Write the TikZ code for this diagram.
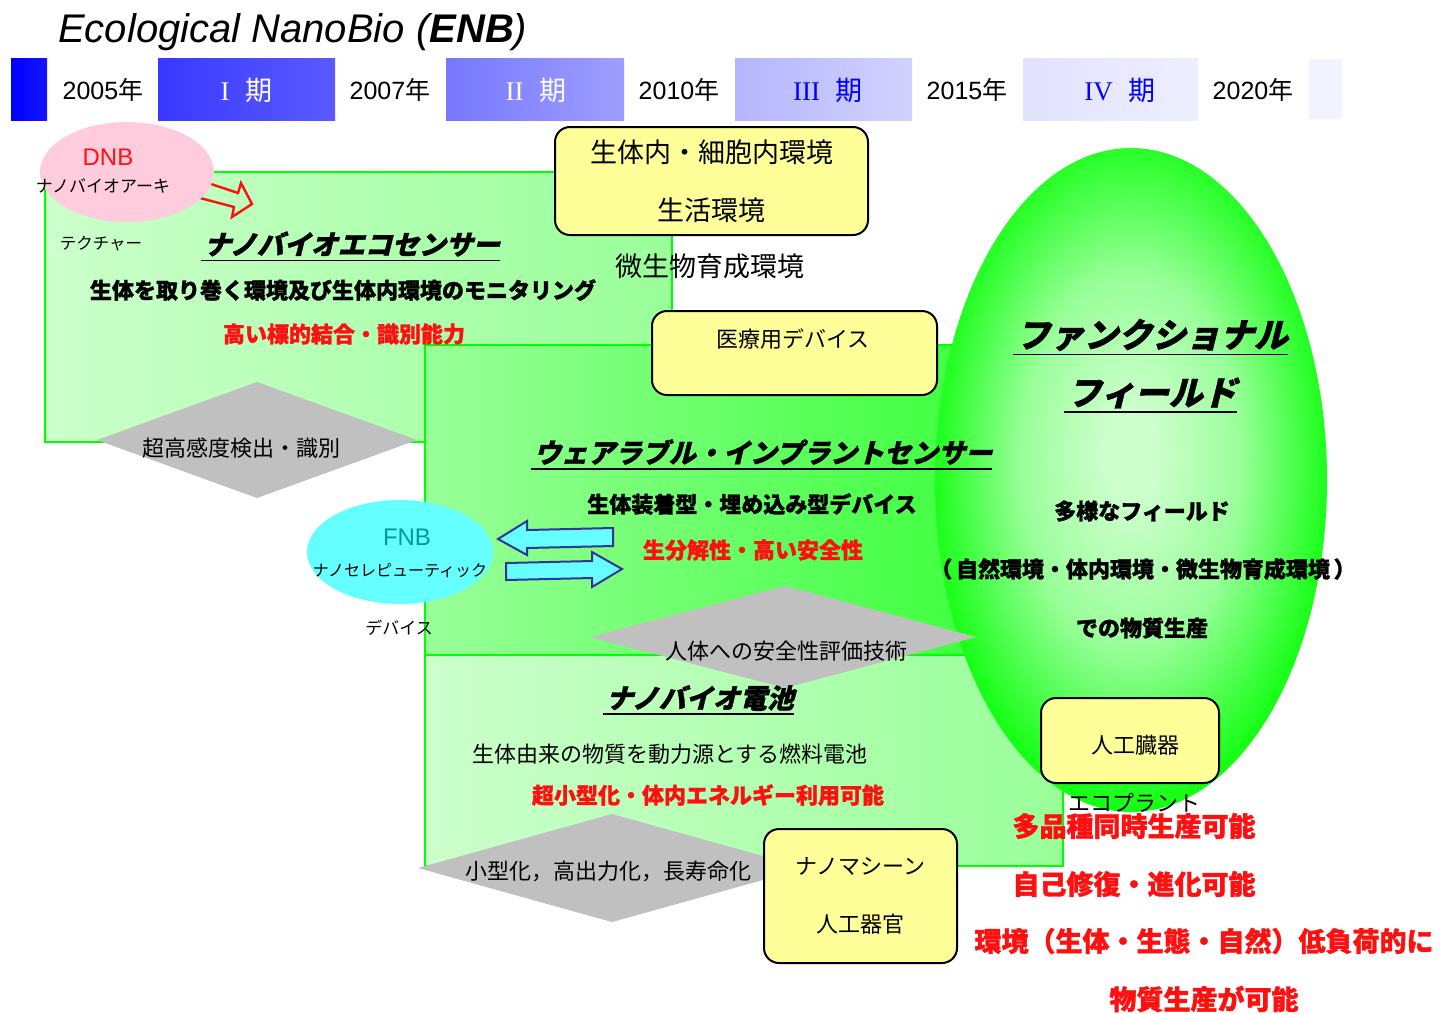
\documentclass[tikz,border=0pt]{standalone}
\usepackage{fontspec}
\setmainfont{Liberation Sans}
\newfontfamily\jp{Noto Sans CJK JP}[BoldFeatures={FakeBold=1.3}]
\newfontfamily\jpsl{Noto Sans CJK JP}[FakeSlant=0.25, BoldFeatures={FakeBold=1.3}]
\newfontfamily\ser{Liberation Serif}
\usetikzlibrary{calc}
\newcommand\myfs[1]{\fontsize{#1}{#1}\selectfont}
\definecolor{hA1}{HTML}{0000FF}\definecolor{hA2}{HTML}{1515FF}
\definecolor{hB1}{HTML}{3939FF}\definecolor{hB2}{HTML}{5A5AFF}
\definecolor{hC1}{HTML}{7777FF}\definecolor{hC2}{HTML}{9E9EFF}
\definecolor{hD1}{HTML}{B5B5FF}\definecolor{hD2}{HTML}{D2D2FF}
\definecolor{hE1}{HTML}{E2E2FF}\definecolor{hE2}{HTML}{EEEEFF}
\definecolor{hF}{HTML}{F3F3FF}
\definecolor{lgreen}{HTML}{CCFFCC}
\definecolor{mgreen}{HTML}{99FF99}
\definecolor{dgreen}{HTML}{3CFF3C}
\definecolor{border}{HTML}{00FF00}
\definecolor{fieldlight}{HTML}{CCFFCC}
\definecolor{fieldmid}{HTML}{99FF99}
\definecolor{fieldgreen}{HTML}{05FF05}
\definecolor{pinkc}{HTML}{FFCCDD}
\definecolor{cyanc}{HTML}{66FFFF}
\definecolor{tealc}{HTML}{009999}
\definecolor{arrowblue}{HTML}{333399}
\definecolor{boxyellow}{HTML}{FFFF99}
\definecolor{diagray}{HTML}{C0C0C0}
\definecolor{redc}{HTML}{FF1010}
\pgfdeclareradialshading{fieldshade}{\pgfpoint{0bp}{2bp}}{color(0bp)=(fieldlight); color(3.5bp)=(fieldlight); color(14bp)=(fieldmid); color(27bp)=(fieldgreen); color(50bp)=(fieldgreen)}
\begin{document}
\begin{tikzpicture}[x=1pt,y=-1pt,
  lbl/.style={inner sep=0pt, font=\jp\myfs{22}},
  bold/.style={inner sep=0pt, font=\jp\bfseries\myfs{22}},
  ttl/.style={inner sep=0pt, font=\jpsl\bfseries\myfs{27}},
  uline/.style={line width=1.8pt, black},
  gborder/.style={draw=border, line width=2pt},
  ybox/.style={draw=black, line width=2pt, fill=boxyellow, rounded corners=15pt, inner sep=4pt},
  diam/.style={fill=diagray},
  period/.style={inner sep=0pt, font=\myfs{27}},
  year/.style={inner sep=0pt, font=\myfs{25}}]
\useasboundingbox (0,0) rectangle (1442,1013);
\fill[white] (0,0) rectangle (1442,1013);

% title
\node[anchor=base west, inner sep=0pt, font=\myfs{40}\itshape] (title) at (58,42) {Ecological NanoBio ({\bfseries ENB})};

% header bar
\shade[left color=hA1, right color=hA2] (11,58) rectangle (47,120);
\shade[left color=hB1, right color=hB2] (158,58) rectangle (335,120);
\shade[left color=hC1, right color=hC2] (446,58) rectangle (624,120);
\shade[left color=hD1, right color=hD2] (735,58) rectangle (912,120);
\shade[left color=hE1, right color=hE2] (1023,58) rectangle (1198,120);
\fill[hF] (1309,59) rectangle (1342,119);
\node[year] (y1) at (103,90) {2005{\jp 年}};
\node[year] (y2) at (390,90) {2007{\jp 年}};
\node[year] (y3) at (679,90) {2010{\jp 年}};
\node[year] (y4) at (967,90) {2015{\jp 年}};
\node[year] (y5) at (1253,90) {2020{\jp 年}};
\node[period, text=white] (p1) at (246.5,90) {{\ser I}\hspace{16pt}{\jp 期}};
\node[period, text=white] (p2) at (536,90) {{\ser II}\hspace{16pt}{\jp 期}};
\node[period, text=blue] (p3) at (828,90) {{\ser III}\hspace{16pt}{\jp 期}};
\node[period, text=blue] (p4) at (1120,90) {{\ser IV}\hspace{16pt}{\jp 期}};

% green regions
\shade[left color=lgreen, right color=mgreen] (45,172) rectangle (672,442);
\draw[gborder] (45,172) rectangle (672,442);
\shade[left color=mgreen, right color=dgreen] (425,345) rectangle (990,655);
\draw[gborder] (425,345) rectangle (990,655);
\shade[left color=lgreen, right color=mgreen] (425,655) rectangle (1063,866);
\draw[gborder] (425,655) rectangle (1063,866);
\begin{scope}[transform canvas={shift={(1131,480)}, xscale=0.5904}]
\shade[shading=fieldshade] (0,0) circle [radius=332];
\end{scope}

% red arrow (tail under pink ellipse)
\draw[redc, line width=2.4pt, line join=miter] (190,177) -- (238,193) -- (241,183) -- (252,204) -- (232,217) -- (234,207) -- (185,194) -- cycle;

% DNB ellipse
\fill[pinkc] (127,172) ellipse [x radius=87, y radius=50];
\node[inner sep=0pt, font=\myfs{24}, text=redc] (dnb) at (108,157) {DNB};
\node[lbl, font=\jp\myfs{17}] (dnb2) at (103,186) {ナノバイオアーキ};
\node[lbl, font=\jp\myfs{16.5}] (dnb3) at (101,244) {テクチャー};

% FNB ellipse
\fill[cyanc] (400,552) ellipse [x radius=93, y radius=52];
\node[inner sep=0pt, font=\myfs{24}, text=tealc] (fnb) at (407,537) {FNB};
\node[lbl, font=\jp\myfs{16}] (fnb2) at (400,571) {ナノセレピューティック};
\node[lbl, font=\jp\myfs{17}] (fnb3) at (399,628) {デバイス};

% blue arrows
\draw[arrowblue, fill=cyanc, line width=2pt, line join=miter] (613,528) -- (527,530) -- (527,521) -- (498,539) -- (527,555) -- (527,548) -- (613,546) -- cycle;
\draw[arrowblue, fill=cyanc, line width=2pt, line join=miter] (506,563) -- (592,561) -- (592,552) -- (622,569) -- (592,587) -- (592,578) -- (506,580) -- cycle;

% diamonds
\fill[diam] (97,440) -- (257,382) -- (417,440) -- (257,498) -- cycle;
\fill[diam] (590,637) -- (785,586) -- (976,637) -- (785,688) -- cycle;
\fill[diam] (418,868) -- (612,814) -- (806,868) -- (612,922) -- cycle;
\node[lbl] (d1) at (241,448) {超高感度検出・識別};
\node[lbl] (d2) at (786,651) {人体への安全性評価技術};
\node[lbl] (d3) at (608,871) {小型化，高出力化，長寿命化};

% region A texts
\node[ttl] (tA) at (352,244) {ナノバイオエコセンサー};
\draw[uline] ($(tA.base west)+(-3,6)$) -- ($(tA.base east)+(0,6)$);
\node[bold] (tA2) at (343,290) {生体を取り巻く環境及び生体内環境のモニタリング};
\node[bold, text=redc] (tA3) at (344,334) {高い標的結合・識別能力};

% region B texts
\node[ttl] (tB) at (763,452) {ウェアラブル・インプラントセンサー};
\draw[uline] ($(tB.base west)+(-3,6)$) -- ($(tB.base east)+(0,6)$);
\node[bold] (tB2) at (752,504) {生体装着型・埋め込み型デバイス};
\node[bold, text=redc] (tB3) at (753,550) {生分解性・高い安全性};

% region C texts
\node[ttl] (tC) at (700,698) {ナノバイオ電池};
\draw[uline] ($(tC.base west)+(-3,6)$) -- ($(tC.base east)+(0,6)$);
\node[lbl] (tC2) at (670,754) {生体由来の物質を動力源とする燃料電池};
\node[bold, text=redc] (tC3) at (708,795) {超小型化・体内エネルギー利用可能};

% functional field texts
\node[ttl, font=\jpsl\bfseries\myfs{34}] (tF) at (1152,335) {ファンクショナル};
\draw[uline] ($(tF.base west)+(-3,7)$) -- ($(tF.base east)+(0,7)$);
\node[ttl, font=\jpsl\bfseries\myfs{34}] (tF2) at (1152,393) {フィールド};
\draw[uline] ($(tF2.base west)+(-3,7)$) -- ($(tF2.base east)+(0,7)$);
\node[bold] (tF3) at (1142,511) {多様なフィールド};
\node[bold] (tF4) at (1143,569) {（\,自然環境・体内環境・微生物育成環境\,）};
\node[bold] (tF5) at (1142,628) {での物質生産};

% yellow boxes
\node[ybox, minimum width=313, minimum height=108, font=\jp\fontsize{27}{58}\selectfont, align=center] (bx1) at (711.5,181) {生体内・細胞内環境\\生活環境};
\node[lbl, font=\jp\myfs{27}] (mic) at (710,266) {微生物育成環境};
\node[ybox, minimum width=285, minimum height=84] (bx2) at (794.5,353) {};
\node[lbl] (bx2t) at (793,339) {医療用デバイス};
\node[ybox, minimum width=178, minimum height=85, font=\jp\myfs{22}] (bx3) at (1130,740.5) {};
\node[lbl] (bx3t) at (1135,745) {人工臓器};
\node[ybox, minimum width=193, minimum height=134, font=\jp\fontsize{22}{58}\selectfont, align=center] (bx4) at (860.5,896) {ナノマシーン\\人工器官};
\node[lbl] (eco) at (1134,803) {エコプラント};

% red bottom-right texts
\node[bold, text=redc, font=\jp\bfseries\myfs{27}] (r1) at (1134,826) {多品種同時生産可能};
\node[bold, text=redc, font=\jp\bfseries\myfs{27}] (r2) at (1134,884) {自己修復・進化可能};
\node[bold, text=redc, font=\jp\bfseries\myfs{27}] (r3) at (1204,941) {環境（生体・生態・自然）低負荷的に};
\node[bold, text=redc, font=\jp\bfseries\myfs{27}] (r4) at (1204,999) {物質生産が可能};
\end{tikzpicture}
\end{document}
